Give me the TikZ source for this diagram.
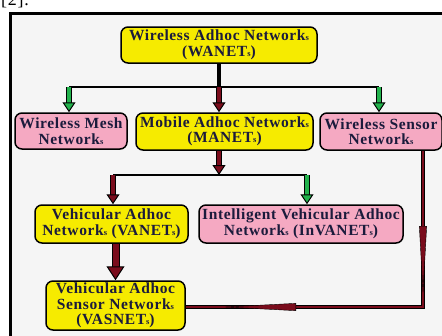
\documentclass[tikz,border=0pt]{standalone}
\usepackage{fontspec}
\setmainfont{Liberation Serif}[LetterSpace=4]
\usetikzlibrary{arrows.meta,decorations.markings}
\definecolor{boxyellow}{HTML}{F6EB00}
\definecolor{boxpink}{HTML}{F5A9C2}
\definecolor{darkred}{HTML}{7A0C1C}
\definecolor{arrgreen}{HTML}{22B24C}
\definecolor{inktext}{HTML}{1B1B3C}
\definecolor{panel}{HTML}{F5F5F5}
\newcommand{\netS}{{\fontsize{8.5}{8.5}\selectfont s}}

\begin{document}
\begin{tikzpicture}[x=1pt,y=-1pt,
	netbox/.style={draw=black, line width=1.5pt, rounded corners=7pt, align=center,
		text=inktext, inner sep=0pt, font=\fontsize{15.5}{15.5}\selectfont\bfseries},
	yellowbox/.style={netbox, fill=boxyellow},
	pinkbox/.style={netbox, fill=boxpink},
	fatarrow/.style={double=#1, double distance=3.5pt, line width=1pt,
		-{Triangle[fill=#1,length=10pt,width=13pt]}},
	sensorline/.style={double=darkred, double distance=2.2pt, line width=0.9pt},
	sensormarks/.style={line width=0.9pt, decorate, decoration={markings,
		mark=at position 150pt with {\arrow{Triangle[length=75pt,width=8pt,fill=darkred]}},
		mark=at position 363pt with {\arrow{Triangle[length=80pt,width=8pt,fill=darkred]}}}}]
	\useasboundingbox (0,0) rectangle (442,335);

	% panel and frame
	\fill[panel] (9,12) rectangle (450,345);
	\draw[line width=3pt] (10.5,345) -- (10.5,13.5) -- (450,13.5);
	\node[anchor=base west, inner sep=0pt, font=\fontsize{18}{18}\selectfont] (cite) at (1,5) {[2].};

	% boxes
	\node[yellowbox, minimum width=196, minimum height=36] (wanet) at (219,45)
		{Wireless Adhoc Network\netS\\(WANET\netS)};
	\node[pinkbox, minimum width=112, minimum height=36] (mesh) at (71,131)
		{Wireless Mesh\\Network\netS};
	\node[yellowbox, minimum width=177, minimum height=37] (manet) at (224.5,131.5)
		{Mobile Adhoc Network\netS\\(MANET\netS)};
	\node[pinkbox, minimum width=122, minimum height=37] (sensor) at (381,131.5)
		{Wireless Sensor\\Network\netS};
	\node[yellowbox, minimum width=153, minimum height=38] (vanet) at (111.5,224)
		{Vehicular Adhoc\\Network\netS{} (VANET\netS)};
	\node[pinkbox, minimum width=204, minimum height=38] (invanet) at (301,224)
		{Intelligent Vehicular Adhoc\\Network\netS{} (InVANET\netS)};
	\node[yellowbox, minimum width=139, minimum height=49] (vasnet) at (115.5,305.5)
		{Vehicular Adhoc\\Sensor Network\netS\\(VASNET\netS)};

	% first level
	\coordinate (busa) at (219,87);
	\coordinate (busal) at (69,87);
	\coordinate (busar) at (379,87);
	\draw[line width=4pt] (busa |- wanet.south) -- (busa);
	\draw[line width=1.4pt] (busal) -- (busar);
	\draw[fatarrow=arrgreen] (busal) -- (busal |- mesh.north);
	\draw[fatarrow=darkred] (busa) -- (busa |- manet.north);
	\draw[fatarrow=arrgreen] (busar) -- (busar |- sensor.north);

	% second level
	\coordinate (busb) at (219,175);
	\coordinate (busbl) at (113,175);
	\coordinate (busbr) at (307,175);
	\draw[line width=1.4pt] (busbl) -- (busbr);
	\draw[fatarrow=darkred] (busb |- manet.south) -- (busb);
	\draw[fatarrow=darkred] (busbl) -- (busbl |- vanet.north);
	\draw[fatarrow=arrgreen] (busbr) -- (busbr |- invanet.north);

	% to VASNET
	\draw[fatarrow=darkred, double distance=6pt, -{Triangle[fill=darkred,length=14pt,width=18pt]}]
		(vasnet.north |- vanet.south) -- (vasnet.north);
	\coordinate (corner) at (423,307);
	\draw[sensorline] (sensor.south -| corner) -- (corner) -- (corner -| vasnet.east);
	\path[sensormarks] (sensor.south -| corner) -- (corner) -- (corner -| vasnet.east);
\end{tikzpicture}
\end{document}
